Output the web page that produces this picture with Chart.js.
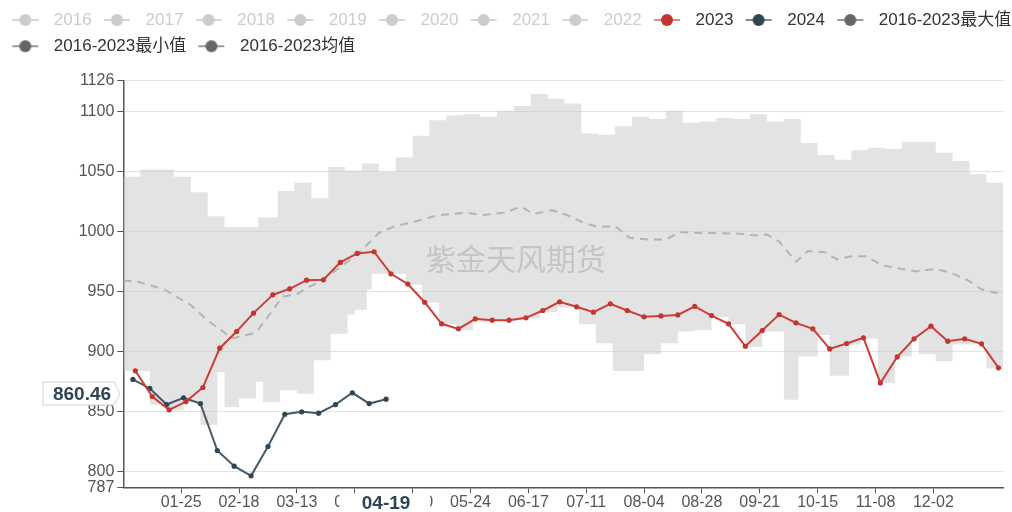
<!DOCTYPE html>
<html>
<head>
<meta charset="utf-8">
<script src="https://cdn.jsdelivr.net/npm/chart.js@4/dist/chart.umd.min.js"></script>
<style>
  html, body { margin: 0; padding: 0; background: #fff; }
  #wrap { width: 1012px; height: 512px; }
</style>
</head>
<body>
<div id="wrap"><canvas id="c" width="1012" height="512"></canvas></div>
<script>
// ---------- DATA ----------
const legendYears = ['2016', '2017', '2018', '2019', '2020', '2021', '2022'];

const dates2023 = ['01-06','01-13','01-20','01-27','02-03','02-10','02-17','02-24','03-03','03-10','03-17','03-24','03-31',
  '04-07','04-14','04-21','04-28','05-05','05-12','05-19','05-26','06-02','06-09','06-16','06-23','06-30',
  '07-07','07-14','07-21','07-28','08-04','08-11','08-18','08-25','09-01','09-08','09-15','09-22','09-29',
  '10-06','10-13','10-20','10-27','11-03','11-10','11-17','11-24','12-01','12-08','12-15','12-22','12-29'];
const values2023 = [884.1, 862.7, 851.6, 858.5, 870.2, 903.0, 916.9, 932.2, 947.5, 952.5, 959.7, 960.0, 974.5,
  982.0, 983.4, 965.0, 956.5, 941.3, 923.3, 919.1, 927.5, 926.3, 926.3, 928.3, 934.4, 941.6,
  937.5, 933.0, 940.0, 934.4, 929.1, 929.9, 930.7, 937.9, 930.2, 923.3, 904.6, 917.7, 931.0,
  924.1, 919.1, 902.4, 906.9, 911.6, 874.0, 895.7, 910.8, 921.3, 908.8, 910.8, 906.6, 886.6];

const dates2024 = ['01-05','01-12','01-19','01-26','02-02','02-09','02-16','02-23','03-01','03-08','03-15','03-22','03-29','04-05','04-12','04-19'];
const values2024 = [876.9, 869.4, 856.0, 861.6, 856.8, 817.7, 804.6, 796.6, 821.0, 847.9, 849.9, 848.8, 856.0, 865.8, 856.8, 860.46];

const maxDates = ['01-01','01-08','01-22','01-29','02-05','02-12','02-26','03-05','03-12','03-19','03-26','04-02','04-09','04-16','04-23','04-30',
  '05-07','05-14','05-21','05-28','06-04','06-11','06-18','06-25','07-02','07-09','07-16','07-23','07-30','08-06','08-13','08-20','08-27',
  '09-03','09-10','09-17','09-24','10-01','10-08','10-15','10-22','10-29','11-05','11-12','11-19','11-26','12-03','12-10','12-17','12-24','12-31'];
const maxValues = [1046, 1052, 1046, 1033, 1013, 1004, 1012, 1034, 1041, 1028, 1054, 1051, 1057, 1050, 1062, 1080,
  1093, 1097, 1098, 1096, 1101, 1105, 1115, 1111, 1107, 1082, 1081, 1088, 1096, 1094, 1101, 1091, 1092,
  1095, 1094, 1098, 1092, 1094, 1074, 1064, 1060, 1068, 1070, 1069, 1075, 1075, 1066, 1059, 1048, 1041, 1041];

const minDates = ['01-01','01-12','01-19','01-26','02-02','02-09','02-12','02-18','02-25','02-28','03-06','03-13','03-20','03-27',
  '04-03','04-06','04-11','04-13','04-27','05-04','05-11','05-18','05-25','06-01','06-15','06-22','06-29','07-08','07-15','07-22',
  '08-04','08-11','08-18','08-25','09-01','09-08','09-15','09-22','10-01','10-07','10-15','10-20','10-28','11-02','11-09','11-16',
  '11-23','11-26','12-03','12-10','12-24','12-31'];
const minValues = [884, 856, 851, 858, 839, 883, 854, 861, 875, 858, 868, 865, 893, 915,
  931, 935, 952, 965, 956, 941, 923, 918, 925, 926, 928, 933, 937, 923, 907, 884,
  898, 907, 917, 918, 929, 923, 904, 917, 860, 896, 914, 880, 906, 911, 874, 896,
  911, 898, 892, 906, 886, 886];

const meanDates = ['01-01','01-06','01-11','01-18','01-23','01-29','02-05','02-10','02-15','02-21','02-25','03-02','03-07','03-13','03-18',
  '03-23','03-30','04-05','04-11','04-16','04-23','04-30','05-10','05-22','05-29','06-07','06-14','06-19','06-27','07-03','07-10',
  '07-16','07-23','07-29','08-06','08-13','08-19','08-29','09-11','09-19','09-24','09-29','10-06','10-11','10-18','10-23','10-29',
  '11-04','11-11','11-19','11-25','12-03','12-09','12-16','12-22','12-28','12-31'];
const meanValues = [959, 959, 956, 952, 946, 939, 926, 919, 911, 914, 916, 932, 946, 948, 954,
  959, 969, 978, 989, 999, 1005, 1008, 1013.6, 1016, 1014, 1016, 1021, 1015, 1018, 1014, 1007.5,
  1004, 1004.7, 995, 993.6, 993.6, 999.7, 999, 998.6, 997, 997.7, 992, 975, 984, 983, 977, 979.6,
  979.6, 972, 969, 967, 969, 966, 960, 952, 949, 952];

const xTickDates = ['01-25','02-18','03-13','04-06','04-30','05-24','06-17','07-11','08-04','08-28','09-21','10-15','11-08','12-02'];
const yTickValues = [787, 800, 850, 900, 950, 1000, 1050, 1100, 1126];
const pointerX = '04-19';
const pointerYLabel = '860.46';
const watermark = '紫金天风期货';

// ---------- HELPERS ----------
function dayIndex(md) {
  const [m, d] = md.split('-').map(Number);
  return Math.round((Date.UTC(2024, m - 1, d) - Date.UTC(2024, 0, 1)) / 864e5);
}
function mdFromIndex(i) {
  const dt = new Date(Date.UTC(2024, 0, 1) + i * 864e5);
  return String(dt.getUTCMonth() + 1).padStart(2, '0') + '-' + String(dt.getUTCDate()).padStart(2, '0');
}
function pts(dates, vals) { return dates.map((d, i) => ({ x: dayIndex(d), y: vals[i] })); }

function makeIcon(lineColor, dotColor) {
  const c = document.createElement('canvas');
  c.width = 34; c.height = 16;
  const g = c.getContext('2d');
  g.strokeStyle = lineColor; g.lineWidth = 2;
  g.beginPath(); g.moveTo(2, 8); g.lineTo(28, 8); g.stroke();
  g.fillStyle = dotColor;
  g.beginPath(); g.arc(15, 8, 6, 0, Math.PI * 2); g.fill();
  return c;
}

const FONT = "'Liberation Sans', Arial, 'Noto Sans CJK SC', sans-serif";

const datasets = [];
legendYears.forEach(y => datasets.push({
  label: y, data: [], borderColor: '#ccc', backgroundColor: '#ccc',
  _icon: makeIcon('#d6d6d6', '#ccc'), _text: '#ccc'
}));
datasets.push({
  label: '2023', data: pts(dates2023, values2023), borderColor: '#cf3d3a', backgroundColor: '#c23531',
  borderWidth: 2, pointRadius: 2.6, pointBorderWidth: 0, pointBackgroundColor: '#c23531',
  _icon: makeIcon('#e08a88', '#c23531'), _text: '#333'
});
datasets.push({
  label: '2024', data: pts(dates2024, values2024), borderColor: '#455a69', backgroundColor: '#2f4554',
  borderWidth: 2, pointRadius: 2.6, pointBorderWidth: 0, pointBackgroundColor: '#2f4554',
  _icon: makeIcon('#7d8c98', '#2f4554'), _text: '#333'
});
datasets.push({
  label: '2016-2023最大值', data: pts(maxDates, maxValues), stepped: true,
  borderColor: 'transparent', borderWidth: 0, pointRadius: 0,
  backgroundColor: 'rgba(200,200,200,0.5)', fill: '+1',
  _icon: makeIcon('#999', '#666'), _text: '#333'
});
datasets.push({
  label: '2016-2023最小值', data: pts(minDates, minValues), stepped: true,
  borderColor: 'transparent', borderWidth: 0, pointRadius: 0, fill: false,
  _icon: makeIcon('#999', '#666'), _text: '#333'
});
datasets.push({
  label: '2016-2023均值', data: pts(meanDates, meanValues),
  borderColor: '#a0a0a0', borderWidth: 2, borderDash: [8, 6], pointRadius: 0, fill: false,
  _icon: makeIcon('#999', '#666'), _text: '#333'
});

const extras = {
  id: 'extras',
  beforeInit(chart) {
    const lg = chart.legend;
    if (lg) {
      const orig = lg.fit;
      lg.fit = function () { orig.call(this); this.height = 78.4; };
    }
  },
  afterLayout(chart) {
    if (chart.legend) chart.legend.right = chart.width + 18;
  },
  afterDatasetsDraw(chart) {
    const ctx = chart.ctx;
    ctx.save();
    ctx.font = "30px 'Noto Sans CJK SC', sans-serif";
    ctx.fillStyle = 'rgba(140,140,140,0.35)';
    ctx.textAlign = 'left';
    ctx.textBaseline = 'middle';
    ctx.fillText(watermark, 426, 259);
    ctx.restore();
  },
  afterDraw(chart) {
    const ctx = chart.ctx;
    const xs = chart.scales.x;
    ctx.save();
    // x pointer label
    const px = xs.getPixelForValue(dayIndex(pointerX));
    ctx.fillStyle = '#fff';
    ctx.fillRect(px - 46.5, 494, 90.5, 18);
    ctx.font = "bold 19px " + FONT;
    ctx.fillStyle = '#2f4554';
    ctx.textAlign = 'center';
    ctx.textBaseline = 'middle';
    ctx.fillText(pointerX, px, 503.5);
    // y pointer label
    const top = 382, bot = 405, l = 43, r = 114, tip = 120, cy = 393.5;
    ctx.beginPath();
    ctx.moveTo(l, top); ctx.lineTo(r, top); ctx.lineTo(tip, cy); ctx.lineTo(r, bot); ctx.lineTo(l, bot); ctx.closePath();
    ctx.fillStyle = '#fff'; ctx.fill();
    ctx.strokeStyle = '#d0d0d0'; ctx.lineWidth = 1; ctx.stroke();
    ctx.fillStyle = '#2f4554';
    ctx.fillText(pointerYLabel, 82, cy + 1);
    ctx.restore();
  }
};

new Chart(document.getElementById('c'), {
  type: 'line',
  data: { datasets },
  plugins: [extras],
  options: {
    responsive: false,
    animation: false,
    events: [],
    layout: { padding: { top: 2.3, left: 0, right: 0, bottom: 0 } },
    plugins: {
      tooltip: { enabled: false },
      legend: {
        display: true,
        position: 'top',
        align: 'start',
        labels: {
          usePointStyle: true,
          pointStyleWidth: 36.15,
          padding: 9.2,
          font: { family: FONT, size: 17 },
          color: '#333',
          generateLabels(chart) {
            return chart.data.datasets.map((ds, i) => ({
              text: ds.label,
              pointStyle: ds._icon,
              fontColor: ds._text,
              fillStyle: ds.backgroundColor,
              strokeStyle: ds.borderColor,
              lineWidth: 0,
              hidden: false,
              datasetIndex: i
            }));
          }
        }
      }
    },
    scales: {
      x: {
        type: 'linear',
        min: 0,
        max: 365,
        afterBuildTicks(s) { s.ticks = xTickDates.map(d => ({ value: dayIndex(d) })); },
        afterFit(s) { s.height = 24.7; },
        grid: { drawOnChartArea: false, drawTicks: true, tickLength: 6, tickColor: '#555', tickWidth: 1 },
        border: { display: true, color: '#555', width: 1.5 },
        ticks: {
          autoSkip: false, maxRotation: 0, padding: 0,
          color: '#555', font: { family: FONT, size: 16 },
          callback: v => mdFromIndex(v)
        }
      },
      y: {
        type: 'linear',
        min: 787,
        max: 1126,
        afterBuildTicks(s) { s.ticks = yTickValues.map(v => ({ value: v })); },
        afterFit(s) { s.width = 123.3; },
        grid: {
          color: ctx => (ctx.tick && ctx.tick.value === 787) ? 'rgba(0,0,0,0)' : '#e3e3e3',
          lineWidth: 1, tickLength: 6, tickColor: '#555'
        },
        border: { display: true, color: '#555', width: 1.5 },
        ticks: { autoSkip: false, padding: 3, color: '#555', font: { family: FONT, size: 16 }, callback: v => String(v) }
      },
      yRight: {
        type: 'linear',
        position: 'right',
        display: true,
        grid: { display: false, drawOnChartArea: false, drawTicks: false },
        border: { display: false },
        ticks: { display: false },
        afterFit(s) { s.width = 8.7; }
      }
    }
  }
});
</script>
</body>
</html>
